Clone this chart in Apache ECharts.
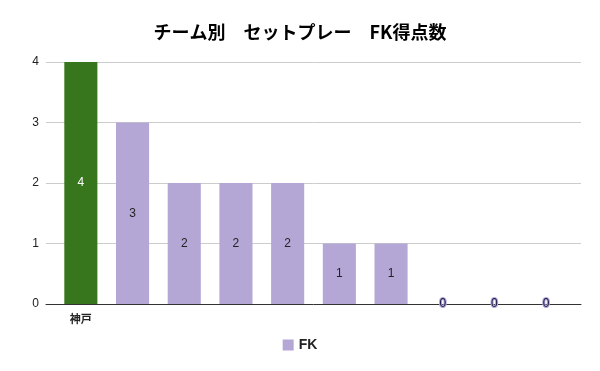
<!DOCTYPE html>
<html><head><meta charset="utf-8">
<script src="https://cdn.jsdelivr.net/npm/echarts@6/dist/echarts.min.js"></script>
<style>html,body{margin:0;padding:0;background:#fff}#c{width:600px;height:371px}</style>
</head><body><div id="c"></div>
<script>
const categories = ['神戸', '', '', '', '', '', '', '', '', ''];
const fkValues = [4, 3, 2, 2, 2, 1, 1, 0, 0, 0];
const yTicks = [0, 1, 2, 3, 4];
const seriesName = 'FK';
const titleText = 'チーム別　セットプレー　FK得点数';

const green = '#38761d', lavender = '#b4a7d6';
const chart = echarts.init(document.getElementById('c'), null, {renderer: 'canvas'});
chart.setOption({
  animation: false,
  title: {text: titleText, left: 'center', top: 18,
    textStyle: {fontFamily: 'Noto Sans CJK JP', fontWeight: 'bold', fontSize: 18, color: '#000'}},
  legend: {bottom: 14, left: 'center', itemWidth: 11, itemHeight: 11, itemGap: 9,
    icon: 'rect', data: [seriesName],
    textStyle: {fontFamily: 'Liberation Sans', fontWeight: 'bold', fontSize: 14, color: '#222'}},
  grid: [
    {left: 46, right: 19, top: 62, bottom: 67},
    {left: 55, right: 28, top: 62, bottom: 67}
  ],
  xAxis: [
    {type: 'category', gridIndex: 0, data: categories.map(() => ''),
      axisLine: {lineStyle: {color: '#333', width: 1}}, axisTick: {show: false}, axisLabel: {show: false}},
    {type: 'category', gridIndex: 1, data: categories, boundaryGap: true,
      axisLine: {show: false}, axisTick: {show: false},
      axisLabel: {margin: 9, fontFamily: 'Noto Sans CJK JP', fontWeight: 'bold', fontSize: 11, color: '#222'}}
  ],
  yAxis: [
    {type: 'value', gridIndex: 0, min: yTicks[0], max: yTicks[yTicks.length - 1], interval: 1,
      axisLine: {show: false}, axisTick: {show: false},
      splitLine: {lineStyle: {color: '#cccccc'}},
      axisLabel: {margin: 7, fontFamily: 'Liberation Sans', fontSize: 12, color: '#222'}},
    {type: 'value', gridIndex: 1, min: yTicks[0], max: yTicks[yTicks.length - 1], interval: 1,
      show: false}
  ],
  series: [{
    name: seriesName, type: 'bar', xAxisIndex: 1, yAxisIndex: 1,
    barCategoryGap: '36%',
    itemStyle: {color: lavender},
    data: fkValues.map((v, i) => i === 0 ? {value: v, itemStyle: {color: green},
        label: {color: '#fff'}} : (v === 0 ? {value: v, label: {textBorderColor: lavender, textBorderWidth: 2, color: '#1a1a4a'}} : v)),
    label: {show: true, position: 'inside', fontFamily: 'Liberation Sans', fontSize: 12, color: '#222'}
  }]
});
</script></body></html>
